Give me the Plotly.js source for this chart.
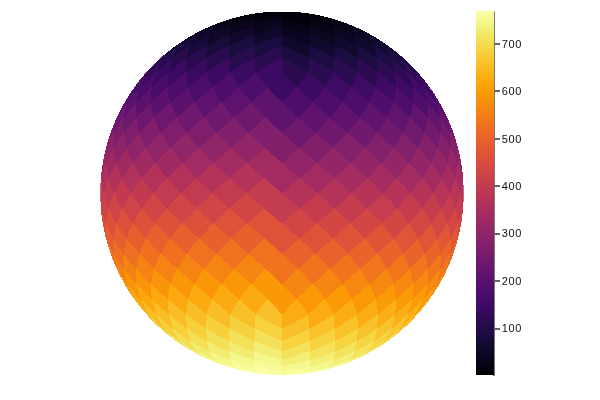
<!DOCTYPE html>
<html><head><meta charset="utf-8">
<script src="https://cdn.plot.ly/plotly-3.0.1.min.js"></script>
<style>
html,body{margin:0;padding:0;background:#fff}
#chart{width:600px;height:400px;will-change:transform}
.choroplethlayer path,.choropleth path{shape-rendering:crispEdges}
.cbaxis text,.colorbar text{letter-spacing:0.7px}
</style></head><body><div id="chart"></div>
<script>
// Pixel values, one list per latitude ring, north to south
const ring01=[1,2,3,4];
const ring02=[5,6,7,8,9,10,11,12];
const ring03=[13,14,15,16,17,18,19,20,21,22,23,24];
const ring04=[25,26,27,28,29,30,31,32,33,34,35,36,37,38,39,40];
const ring05=[41,42,43,44,45,46,47,48,49,50,51,52,53,54,55,56,57,58,59,60];
const ring06=[61,62,63,64,65,66,67,68,69,70,71,72,73,74,75,76,77,78,79,80,81,82,83,84];
const ring07=[85,86,87,88,89,90,91,92,93,94,95,96,97,98,99,100,101,102,103,104,105,106,107,108,109,110,111,112];
const ring08=[113,114,115,116,117,118,119,120,121,122,123,124,125,126,127,128,129,130,131,132,133,134,135,136,137,138,139,140,141,142,143,144];
const ring09=[145,146,147,148,149,150,151,152,153,154,155,156,157,158,159,160,161,162,163,164,165,166,167,168,169,170,171,172,173,174,175,176];
const ring10=[177,178,179,180,181,182,183,184,185,186,187,188,189,190,191,192,193,194,195,196,197,198,199,200,201,202,203,204,205,206,207,208];
const ring11=[209,210,211,212,213,214,215,216,217,218,219,220,221,222,223,224,225,226,227,228,229,230,231,232,233,234,235,236,237,238,239,240];
const ring12=[241,242,243,244,245,246,247,248,249,250,251,252,253,254,255,256,257,258,259,260,261,262,263,264,265,266,267,268,269,270,271,272];
const ring13=[273,274,275,276,277,278,279,280,281,282,283,284,285,286,287,288,289,290,291,292,293,294,295,296,297,298,299,300,301,302,303,304];
const ring14=[305,306,307,308,309,310,311,312,313,314,315,316,317,318,319,320,321,322,323,324,325,326,327,328,329,330,331,332,333,334,335,336];
const ring15=[337,338,339,340,341,342,343,344,345,346,347,348,349,350,351,352,353,354,355,356,357,358,359,360,361,362,363,364,365,366,367,368];
const ring16=[369,370,371,372,373,374,375,376,377,378,379,380,381,382,383,384,385,386,387,388,389,390,391,392,393,394,395,396,397,398,399,400];
const ring17=[401,402,403,404,405,406,407,408,409,410,411,412,413,414,415,416,417,418,419,420,421,422,423,424,425,426,427,428,429,430,431,432];
const ring18=[433,434,435,436,437,438,439,440,441,442,443,444,445,446,447,448,449,450,451,452,453,454,455,456,457,458,459,460,461,462,463,464];
const ring19=[465,466,467,468,469,470,471,472,473,474,475,476,477,478,479,480,481,482,483,484,485,486,487,488,489,490,491,492,493,494,495,496];
const ring20=[497,498,499,500,501,502,503,504,505,506,507,508,509,510,511,512,513,514,515,516,517,518,519,520,521,522,523,524,525,526,527,528];
const ring21=[529,530,531,532,533,534,535,536,537,538,539,540,541,542,543,544,545,546,547,548,549,550,551,552,553,554,555,556,557,558,559,560];
const ring22=[561,562,563,564,565,566,567,568,569,570,571,572,573,574,575,576,577,578,579,580,581,582,583,584,585,586,587,588,589,590,591,592];
const ring23=[593,594,595,596,597,598,599,600,601,602,603,604,605,606,607,608,609,610,611,612,613,614,615,616,617,618,619,620,621,622,623,624];
const ring24=[625,626,627,628,629,630,631,632,633,634,635,636,637,638,639,640,641,642,643,644,645,646,647,648,649,650,651,652,653,654,655,656];
const ring25=[657,658,659,660,661,662,663,664,665,666,667,668,669,670,671,672,673,674,675,676,677,678,679,680,681,682,683,684];
const ring26=[685,686,687,688,689,690,691,692,693,694,695,696,697,698,699,700,701,702,703,704,705,706,707,708];
const ring27=[709,710,711,712,713,714,715,716,717,718,719,720,721,722,723,724,725,726,727,728];
const ring28=[729,730,731,732,733,734,735,736,737,738,739,740,741,742,743,744];
const ring29=[745,746,747,748,749,750,751,752,753,754,755,756];
const ring30=[757,758,759,760,761,762,763,764];
const ring31=[765,766,767,768];
const rings=[ring01,ring02,ring03,ring04,ring05,ring06,ring07,ring08,ring09,ring10,ring11,ring12,ring13,ring14,ring15,ring16,ring17,ring18,ring19,ring20,ring21,ring22,ring23,ring24,ring25,ring26,ring27,ring28,ring29,ring30,ring31];
const colorbarTicks=[100,200,300,400,500,600,700];
const colorbarLabels=['100','200','300','400','500','600','700'];
const inferno=[[0,'#000004'],[0.1,'#160b39'],[0.111,'#1b0c41'],[0.2,'#420a68'],[0.222,'#4a0c6b'],[0.3,'#6a176e'],[0.333,'#781c6d'],[0.4,'#932667'],[0.444,'#a52c60'],[0.5,'#bc3754'],[0.556,'#cf4446'],[0.6,'#dd513a'],[0.667,'#ed6925'],[0.7,'#f37819'],[0.778,'#fb9b06'],[0.8,'#fca50a'],[0.889,'#f7d13d'],[0.9,'#f6d746'],[0.94,'#f2ea69'],[0.97,'#f4f88e'],[1,'#fcffa4']];

// No base map is drawn, so the library gets an empty one instead of fetching it
const emptyMap={type:'Topology',objects:{},arcs:[]};
window.PlotlyGeoAssets=window.PlotlyGeoAssets||{};
window.PlotlyGeoAssets.topojson=Object.assign(window.PlotlyGeoAssets.topojson||{},{'un/world_110m':emptyMap,'world_110m':emptyMap});

// Equal-area pixel grid: each value's cell shape on the sphere
const N=8, PI=Math.PI, STEP=PI/(4*N), SUB=6;
function centre(ringNo,p){
  const polarRow=ringNo<N?ringNo:(ringNo>3*N?4*N-ringNo:0);
  let x;
  if(polarRow){
    const k=Math.floor(p/polarRow), q=p-k*polarRow;
    x=PI/4+k*PI/2+(q-(polarRow-1)/2)*2*STEP;
  }else{
    const shifted=(ringNo-N+1)%2;
    x=(p+(shifted?0.5:0))*2*STEP;
  }
  return [x,PI/2-ringNo*STEP];
}
function toLonLat(x,y,cx){
  const a=Math.abs(y);
  let lon,lat;
  if(a<=PI/4+1e-12){
    lon=x; lat=Math.asin(8/(3*PI)*y);
  }else{
    const sig=2-4*a/PI, ft=PI/4+Math.floor(cx/(PI/2))*PI/2;
    lon=sig<1e-9?cx:ft+(x-ft)/sig;
    lat=Math.sign(y)*Math.asin(1-sig*sig/3);
  }
  if(cx>PI) lon-=2*PI;
  return [lon*180/PI,lat*180/PI];
}
const features=[],locations=[],zValues=[];
rings.forEach((vals,r)=>{
  vals.forEach((v,p)=>{
    const [cx,cy]=centre(r+1,p);
    const corners=[[cx,cy+STEP],[cx+STEP,cy],[cx,cy-STEP],[cx-STEP,cy]];
    const path=[];
    for(let c=0;c<4;c++){
      const A=corners[c],B=corners[(c+1)%4];
      for(let i=0;i<SUB;i++){
        const t=i/SUB;
        path.push(toLonLat(A[0]+(B[0]-A[0])*t,A[1]+(B[1]-A[1])*t,cx));
      }
    }
    path.push(path[0]);
    const id='p'+v;
    features.push({type:'Feature',id:id,properties:{},geometry:{type:'Polygon',coordinates:[path]}});
    locations.push(id); zValues.push(v);
  });
});

Plotly.newPlot('chart',[{
  type:'choropleth',
  geojson:{type:'FeatureCollection',features:features},
  locations:locations,
  z:zValues,
  zmin:1,zmax:768,
  colorscale:inferno,
  marker:{line:{width:0}},
  hoverinfo:'skip',
  colorbar:{
    thicknessmode:'pixels',thickness:18,
    lenmode:'pixels',len:364,
    xref:'container',yref:'container',
    x:476/600,xanchor:'left',xpad:0,
    y:(400-375.5)/400,yanchor:'bottom',ypad:0,
    outlinewidth:0,borderwidth:0,
    tickmode:'array',tickvals:colorbarTicks,ticktext:colorbarLabels,
    ticks:'outside',ticklen:6,tickwidth:1.5,tickcolor:'#666',
    tickfont:{family:'Liberation Sans, Arial, sans-serif',size:11,color:'#111'}
  }
}],{
  width:600,height:400,
  margin:{l:0,r:0,t:0,b:0,autoexpand:false},
  paper_bgcolor:'#fff',
  showlegend:false,
  geo:{
    domain:{x:[100/600,464/600],y:[25/400,388.5/400]},
    projection:{type:'orthographic',rotation:{lon:0,lat:0,roll:0}},
    showframe:false,showcoastlines:false,showland:false,showocean:false,showlakes:false,showrivers:false,showcountries:false,showsubunits:false,
    bgcolor:'rgba(0,0,0,0)',
    lonaxis:{showgrid:false},lataxis:{showgrid:false}
  },
  shapes:[{type:'line',xref:'paper',yref:'paper',x0:494/600,x1:494/600,y0:24/400,y1:388.5/400,line:{color:'#777',width:2}}]
},{displayModeBar:false,responsive:false});
</script></body></html>
